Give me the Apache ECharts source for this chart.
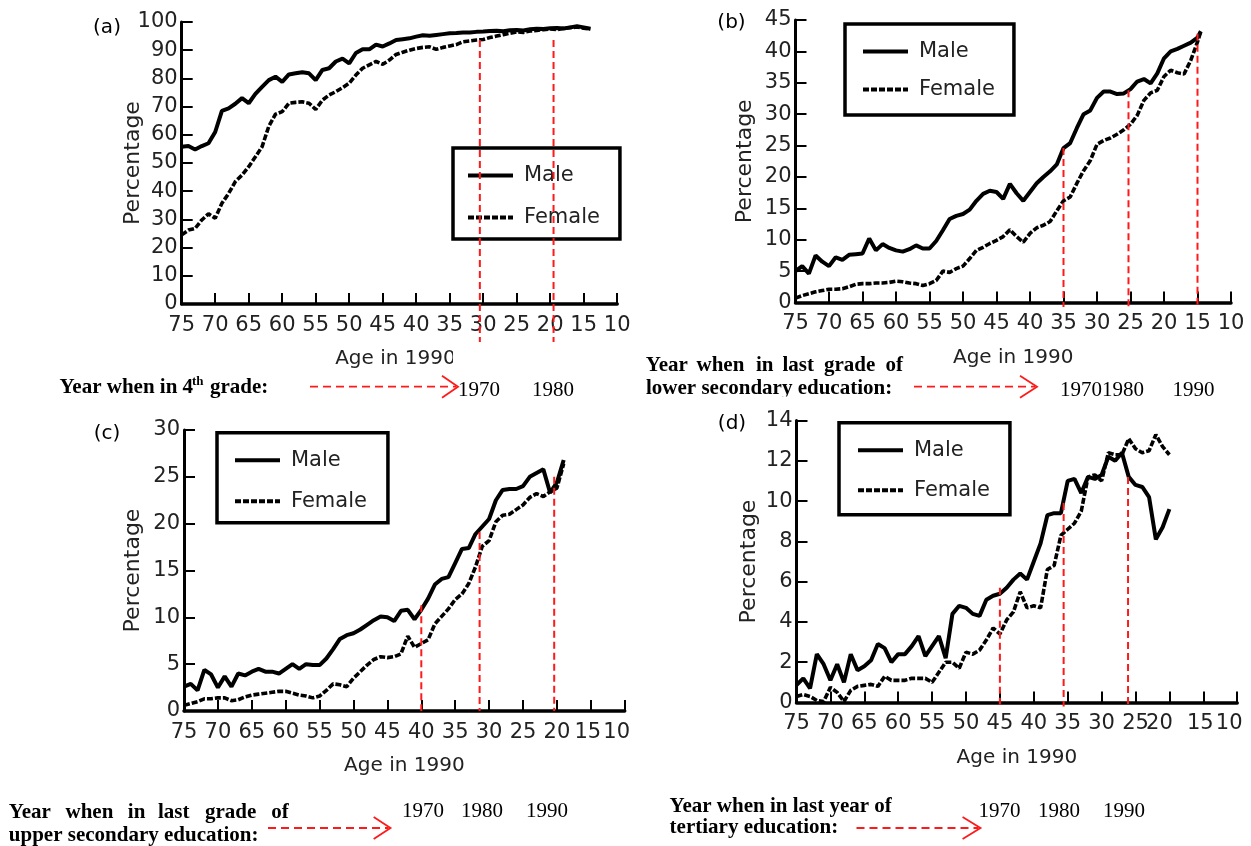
<!DOCTYPE html>
<html><head><meta charset="utf-8">
<script src="https://cdn.jsdelivr.net/npm/echarts@6/dist/echarts.min.js"></script>
<style>html,body{margin:0;padding:0;background:#fff}#c{width:1251px;height:846px}</style>
</head><body><div id="c"></div>
<script>
// ---------------- DATA ----------------
const ageA = [75,74,73,72,71,70,69,68,67,66,65,64,63,62,61,60,59,58,57,56,55,54,53,52,51,50,49,48,47,46,45,44,43,42,41,40,39,38,37,36,35,34,33,32,31,30,29,28,27,26,25,24,23,22,21,20,19,18,17,16,15,14];
const maleA = [55.8,56,54.8,56,57,61,68.5,69.4,71,73, 71.2,74.5,77,79.4,80.6,78.8,81.4,81.8,82.2,81.8, 79.4,83,83.6,86,87,85.3,89,90.3,90.3,92, 91.3,92.4,93.6,93.9,94.2,94.8,95.3,95.1,95.4,95.7, 96,96.1,96.3,96.3,96.5,96.6,96.8,96.9,96.7,97.1, 97.2,97.0,97.4,97.6,97.5,97.8,97.9,97.7,98.1,98.5, 98.1,97.6];
const femaleA = [24.5,26.2,26.8,29.8,32,30.4,35.7,39.2,43.4,45.7, 48.7,52.2,55.8,63,67.3,68.2,71.2,71.5,71.7,71.2, 69,72.3,74.1,75.3,76.7,78.3,81.2,83.6,84.8,86, 85,86.5,88.5,89.3,90,90.6,91,91.2,90.3,91, 91.5,92,93,93.3,93.6,93.8,94.5,95,95.5,96, 96.5,96.3,96.8,97,97.3,97.5,97.3,97.8,98,98.2, 97.8,97.5];
const refAgeA = [30.5, 19.5];
const refTopA = [93.6, 93.6];

const ageB = [75,74,73,72,71,70,69,68,67,66,65,64,63,62,61,60,59,58,57,56,55,54,53,52,51,50,49,48,47,46,45,44,43,42,41,40,39,38,37,36,35,34,33,32,31,30,29,28,27,26,25,24,23,22,21,20,19,18,17,16,15,14.5];
const maleB = [5.0,5.8,4.6,7.5,6.5,5.8,7.2,6.8,7.6,7.7, 7.8,10.2,8.3,9.3,8.7,8.3,8.1,8.5,9.1,8.6, 8.6,9.8,11.5,13.3,13.8,14.1,14.8,16.2,17.3,17.8, 17.6,16.5,18.9,17.4,16.2,17.6,19.0,20.0,20.9,22.0, 24.6,25.4,27.8,30.0,30.6,32.6,33.6,33.6,33.2,33.3, 34.0,35.2,35.6,34.9,36.5,38.9,40.0,40.4,40.9,41.4, 42.2,43.2];
const femaleB = [0.7,1.1,1.4,1.7,1.9,2.1,2.1,2.2,2.5,2.9, 3.0,3.0,3.1,3.1,3.2,3.4,3.3,3.1,3.0,2.7, 3.0,3.5,5.0,4.8,5.4,5.8,7.0,8.3,8.8,9.4, 9.9,10.5,11.6,10.5,9.6,11.0,11.9,12.3,12.9,14.6, 16.2,16.8,19.0,21.0,22.6,25.2,25.8,26.2,26.8,27.5, 28.4,29.8,32.2,33.4,33.8,36.0,37.0,36.6,36.4,38.6, 41.5,43.2];
const refAgeB = [35, 25.3, 15];
const refTopB = [24.6, 33.8, 42.8];

const ageC = [75,74,73,72,71,70,69,68,67,66,65,64,63,62,61,60,59,58,57,56,55,54,53,52,51,50,49,48,47,46,45,44,43,42,41,40,39,38,37,36,35,34,33,32,31,30,29,28,27,26,25,24,23,22,21,20,19];
const maleC = [2.6,2.9,2.2,4.4,3.9,2.5,3.7,2.6,4.0,3.8, 4.2,4.5,4.2,4.2,4.0,4.5,5.0,4.5,5.0,4.9, 4.9,5.6,6.6,7.7,8.1,8.3,8.7,9.2,9.7,10.1, 10.0,9.6,10.7,10.8,9.8,10.8,12.0,13.5,14.1,14.3, 15.8,17.3,17.4,18.9,19.7,20.5,22.5,23.6,23.7,23.7, 24.0,25.0,25.4,25.8,23.3,24.4,26.8];
const femaleC = [0.6,0.8,1.0,1.3,1.3,1.4,1.4,1.1,1.2,1.5, 1.7,1.8,1.9,2.0,2.1,2.1,1.9,1.7,1.6,1.4, 1.6,2.2,2.9,2.8,2.6,3.5,4.2,4.9,5.5,5.8, 5.7,5.8,6.1,8.0,6.8,7.2,7.6,9.3,10.1,10.9, 11.9,12.5,13.6,15.4,17.6,18.2,20.2,20.9,21.0,21.5, 22.0,22.8,23.2,22.9,23.4,23.8,26.4];
const refAgeC = [40, 31.4, 20.4];
const refTopC = [11.3, 19.1, 25];

const ageD = [75,74,73,72,71,70,69,68,67,66,65,64,63,62,61,60,59,58,57,56,55,54,53,52,51,50,49,48,47,46,45,44,43,42,41,40,39,38,37,36,35,34,33,32,31,30,29,28,27,26,25,24,23,22,21,20];
const maleD = [0.87,1.2,0.7,2.4,1.9,1.1,1.9,1.0,2.4,1.6, 1.8,2.1,2.9,2.7,2.0,2.4,2.4,2.8,3.3,2.3, 2.8,3.3,2.2,4.4,4.8,4.7,4.4,4.3,5.1,5.3, 5.4,5.7,6.1,6.4,6.1,7.0,7.9,9.3,9.4,9.4, 11.0,11.1,10.4,11.2,11.1,11.3,12.2,12.0,12.4,11.2, 10.8,10.7,10.2,8.1,8.7,9.6];
const femaleD = [0.3,0.4,0.3,0.1,0.05,0.75,0.5,0.05,0.6,0.8, 0.85,0.9,0.8,1.3,1.1,1.1,1.1,1.2,1.2,1.2, 1.0,1.5,2.0,2.0,1.7,2.5,2.4,2.6,3.1,3.7, 3.4,4.1,4.5,5.5,4.7,4.8,4.7,6.6,6.8,8.3, 8.6,8.9,9.5,11.2,11.3,11.0,12.4,12.3,12.3,13.1, 12.6,12.4,12.5,13.3,12.7,12.3];
const refAgeD = [45, 35.6, 26.1];
const refTopD = [5.7, 9.9, 11.2];

const panelLabels = ['(a)', '(b)', '(c)', '(d)'];
const seriesNames = ['Male', 'Female'];
const xName = 'Age in 1990';
const yName = 'Percentage';

// ---------------- LAYOUT / STYLE ----------------
const FONT = 'DejaVu Sans';
const SERIF = 'Liberation Serif';
const TXT = '#222';
const RED = '#ff1a1a';
const LABEL_W = 26.7; // approx. width of a two-digit tick label at 21px

const panels = [
  {ages: ageA, male: maleA, female: femaleA, yMax: 100, yInt: 10, refAge: refAgeA, refTop: refTopA,
   grid: {left: 181.7, top: 22, width: 435.5, height: 282}, refBelowPx: 38, yGap: 37.5, xNamePad: [0, 8, 0, 0],
   legend: {left: 453, top: 148, padding: [17, 20, 11, 13], itemGap: 21}, shift: {}},
  {ages: ageB, male: maleB, female: femaleB, yMax: 45, yInt: 5, refAge: refAgeB, refTop: refTopB,
   grid: {left: 795.5, top: 20, width: 435.5, height: 282.5}, refBelowPx: 4.5, yGap: 39, xNamePad: 0,
   legend: {left: 845, top: 24, padding: [17, 19, 15, 16], itemGap: 17}, shift: {}},
  {ages: ageC, male: maleC, female: femaleC, yMax: 30, yInt: 5, refAge: refAgeC, refTop: refTopC,
   grid: {left: 184, top: 430, width: 440.7, height: 281}, refBelowPx: 0, yGap: 40, xNamePad: 0,
   legend: {left: 217, top: 432.7, padding: [17, 21, 11, 16], itemGap: 20}, shift: {15: -3, 10: -8}},
  {ages: ageD, male: maleD, female: femaleD, yMax: 14, yInt: 2, refAge: refAgeD, refTop: refTopD,
   grid: {left: 796.5, top: 420.5, width: 440.7, height: 282}, refBelowPx: 4, yGap: 36, xNamePad: 0,
   legend: {left: 839, top: 422.7, padding: [17, 20, 14, 17], itemGap: 19}, shift: {20: -10, 15: -3, 10: -8}}
];

const grids = [], xAxes = [], yAxes = [], series = [], legends = [];
panels.forEach((p, i) => {
  grids.push({left: p.grid.left, top: p.grid.top, width: p.grid.width, height: p.grid.height});
  const rich = {};
  Object.keys(p.shift).forEach(k => {
    rich['s' + k] = {fontSize: 21, fontFamily: FONT, color: TXT,
                     width: 2 * (p.shift[k] + LABEL_W / 2), align: 'right'};
  });
  xAxes.push({
    gridIndex: i, type: 'value', min: 10, max: 75, interval: 5, inverse: true,
    axisLine: {onZero: false, lineStyle: {color: '#000', width: 3.5}},
    axisTick: {inside: true, length: 11, lineStyle: {color: '#000', width: 2}},
    axisLabel: {fontSize: 21, fontFamily: FONT, color: TXT, margin: 11, showMinLabel: true, showMaxLabel: true,
      hideOverlap: false,
      formatter: v => (p.shift[v] !== undefined ? '{s' + v + '|' + v + '}' : String(v)), rich: rich},
    splitLine: {show: false},
    name: xName, nameLocation: 'middle', nameGap: 45, nameMoveOverlap: false,
    nameTextStyle: {fontSize: 20, fontFamily: FONT, color: TXT, padding: p.xNamePad}
  });
  yAxes.push({
    gridIndex: i, type: 'value', min: 0, max: p.yMax, interval: p.yInt,
    axisLine: {onZero: false, lineStyle: {color: '#000', width: 3}},
    axisTick: {inside: true, length: 11, lineStyle: {color: '#000', width: 2}},
    axisLabel: {fontSize: 21, fontFamily: FONT, color: TXT, margin: 4, hideOverlap: false},
    splitLine: {show: false},
    name: yName, nameLocation: 'middle', nameGap: p.yGap, nameMoveOverlap: false,
    nameTextStyle: {fontSize: 22, fontFamily: FONT, color: TXT}
  });
  series.push({
    type: 'line', name: seriesNames[0], xAxisIndex: i, yAxisIndex: i, symbol: 'none', showSymbol: false,
    silent: true, z: 3,
    data: p.ages.map((a, j) => [a, p.male[j]]),
    lineStyle: {color: '#000', width: 4}, itemStyle: {color: '#000'}
  });
  series.push({
    type: 'line', name: seriesNames[1], xAxisIndex: i, yAxisIndex: i, symbol: 'none', showSymbol: false,
    silent: true, z: 3,
    data: p.ages.map((a, j) => [a, p.female[j]]),
    lineStyle: {color: '#000', width: 3.6, type: [6, 2]}, itemStyle: {color: '#000'}
  });
  const below = -p.refBelowPx * p.yMax / p.grid.height;
  p.refAge.forEach((a, k) => {
    series.push({
      type: 'line', xAxisIndex: i, yAxisIndex: i, symbol: 'none', silent: true, clip: false, z: 10,
      data: [[a, p.refTop[k]], [a, below]],
      lineStyle: {color: RED, width: 2, type: [7, 4]}
    });
  });
  legends.push({
    left: p.legend.left, top: p.legend.top, orient: 'vertical', data: seriesNames,
    padding: p.legend.padding, itemGap: p.legend.itemGap, itemWidth: 45, itemHeight: 21,
    borderColor: '#000', borderWidth: 3.5, selectedMode: false,
    itemStyle: {opacity: 0, borderWidth: 0},
    lineStyle: {width: 4},
    textStyle: {fontSize: 21, fontFamily: FONT, color: TXT, padding: [0, 0, 0, 6]}
  });
});

// ---------------- ANNOTATIONS ----------------
function txt(x, y, s, font, align) {
  return {type: 'text', x: x, y: y, z: 100, silent: true,
    style: {text: s, font: font, fill: '#000', textAlign: align || 'left', align: align || 'left',
            textVerticalAlign: 'middle', verticalAlign: 'middle'}};
}
function arrow(x1, x2, y, back) {
  return [
    {type: 'line', z: 100, silent: true, shape: {x1: x1, y1: y, x2: x2 - 2, y2: y},
     style: {stroke: RED, lineWidth: 1.8, lineDash: [8, 5]}},
    {type: 'polyline', z: 100, silent: true, shape: {points: [[back, y - 11], [x2, y], [back, y + 11]]},
     style: {stroke: RED, lineWidth: 1.8, fill: null}}
  ];
}
const B = 'bold 21px "' + SERIF + '"';
const R = '21px "' + SERIF + '"';
const P = '20px "' + FONT + '"';
const graphics = [
  txt(107, 28, panelLabels[0], P, 'center'),
  txt(731.5, 22.5, panelLabels[1], P, 'center'),
  txt(107, 434, panelLabels[2], P, 'center'),
  txt(732, 423.5, panelLabels[3], P, 'center'),
  // (a)
  txt(59.5, 388, 'Year when in 4', B),
  txt(192, 382, 'th', 'bold 13px "' + SERIF + '"'),
  txt(210, 388, 'grade:', B),
  ...arrow(310, 458, 386.7, 442),
  txt(458, 390, '1970', R),
  txt(532, 390, '1980', R),
  {type: 'rect', z: 100, silent: true, shape: {x: 453, y: 344, width: 23, height: 28}, style: {fill: '#fff'}},
  // (b)
  txt(645.8, 365.7, 'Year', B), txt(696.5, 365.7, 'when', B), txt(756, 365.7, 'in', B),
  txt(782.5, 365.7, 'last', B), txt(824, 365.7, 'grade', B), txt(885.4, 365.7, 'of', B),
  txt(646, 388.5, 'lower secondary education:', B),
  {type: 'rect', z: 101, silent: true, shape: {x: 640, y: 396.5, width: 272, height: 10}, style: {fill: '#fff'}},
  ...arrow(914, 1037, 386.7, 1020),
  txt(1060, 390, '19701980', R),
  txt(1172.5, 390, '1990', R),
  // (c)
  txt(8.8, 812.3, 'Year', B), txt(65.5, 812.3, 'when', B), txt(127.8, 812.3, 'in', B),
  txt(157.9, 812.3, 'last', B), txt(204.9, 812.3, 'grade', B), txt(271.2, 812.3, 'of', B),
  txt(8.8, 836, 'upper secondary education:', B),
  ...arrow(268, 390.5, 828, 373.7),
  txt(402, 811.7, '1970', R), txt(461, 811.7, '1980', R), txt(526, 811.7, '1990', R),
  // (d)
  txt(669.6, 806.3, 'Year when in last year of', B),
  txt(669.6, 828, 'tertiary education:', B),
  {type: 'rect', z: 101, silent: true, shape: {x: 665, y: 838.5, width: 182, height: 8}, style: {fill: '#fff'}},
  ...arrow(856.5, 980.5, 828, 962.6),
  txt(978.5, 811.7, '1970', R), txt(1038, 811.7, '1980', R), txt(1103, 811.7, '1990', R)
];

const chart = echarts.init(document.getElementById('c'), null, {renderer: 'canvas', width: 1251, height: 846});
chart.setOption({
  animation: false,
  backgroundColor: '#fff',
  grid: grids, xAxis: xAxes, yAxis: yAxes, series: series, legend: legends,
  graphic: {elements: graphics}
});
</script></body></html>
